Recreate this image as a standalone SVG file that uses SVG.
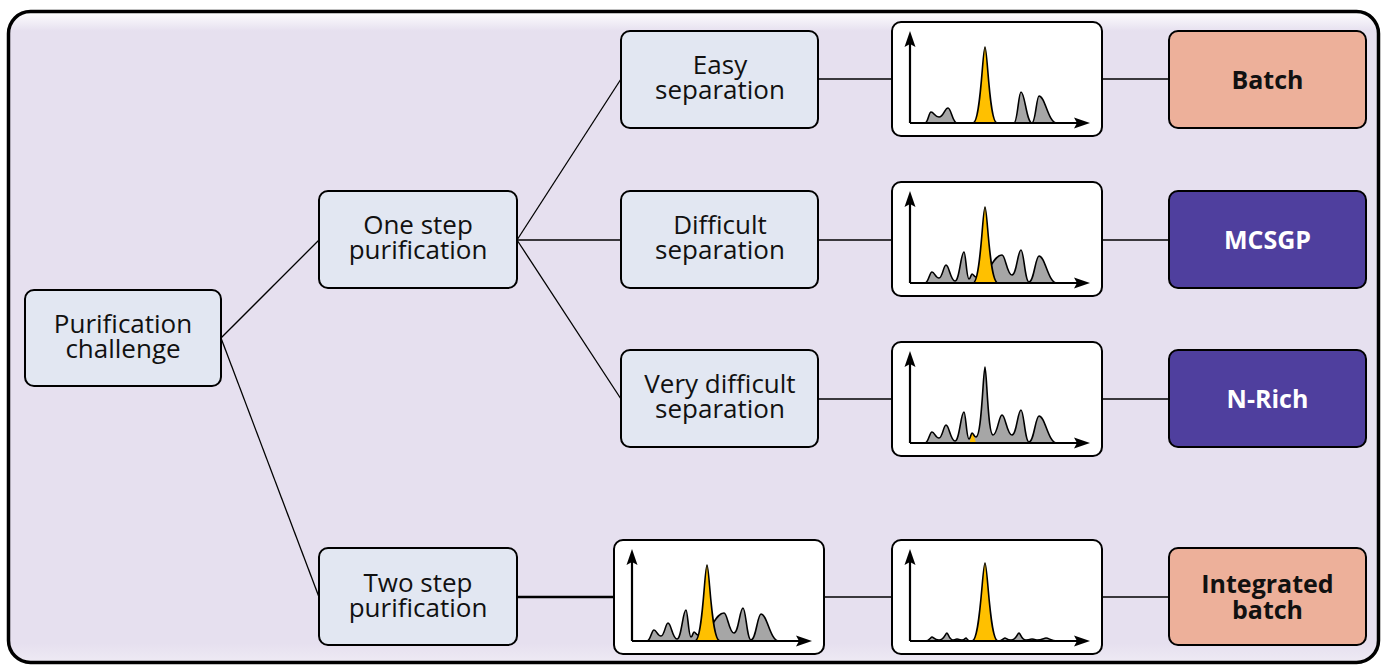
<svg xmlns="http://www.w3.org/2000/svg" width="1384" height="665" viewBox="0 0 1384 665">
<style>
.node{stroke:#000;stroke-width:2}
.blue{fill:#E2E7F2}
.salmon{fill:#EDB09A}
.purple{fill:#4F3F9E}
.t{font-family:"Open Sans","Noto Sans","Liberation Sans",sans-serif;font-size:26px;fill:#111;text-anchor:middle}
.b{font-family:"Open Sans","Noto Sans","Liberation Sans",sans-serif;font-size:25px;font-weight:bold;text-anchor:middle}
.conn line{stroke:#000;stroke-width:1.3}
.gray{fill:#A6A6A6;stroke:#000;stroke-width:1.6;stroke-linejoin:round}
.grayf{fill:#A6A6A6}
.gline{fill:none;stroke:#000;stroke-width:1.6;stroke-linejoin:round}
.yel{fill:#FFC000;stroke:#000;stroke-width:1.6;stroke-linejoin:round}
.yelf{fill:#FFC000}
.axis{stroke:#000;stroke-width:2.2;fill:none}
</style>
<defs>
<linearGradient id="bg" x1="0" y1="0" x2="0" y2="1">
<stop offset="0" stop-color="#FFFFFF"/>
<stop offset="0.03" stop-color="#E6E0EF"/>
<stop offset="0.97" stop-color="#E6E0EF"/>
<stop offset="1" stop-color="#EEEAF4"/>
</linearGradient>
<g id="frame">
<rect x="-18" y="-101" width="210" height="114" rx="9" fill="#fff" stroke="#000" stroke-width="2"/>
</g>
<g id="axes">
<path class="axis" d="M0,0 V-80 M0,0 H168"/>
<polygon points="0,-92 5.5,-76 0,-79 -5.5,-76" fill="#000"/>
<polygon points="180,0 164,-5.5 167,0 164,5.5" fill="#000"/>
</g>
<path id="env2" d="M15,0 C18.5,0 19.55,-11 22,-11 C24.45,-11 25.5,-5 29,-5 C32.5,-5 33.55,-18 36,-18 C39.15,-18 40.5,-2 45,-2 C49.5,-2 50.85,-31 54,-31 C55.75,-31 56.5,-4 59,-4 C60.5,-4 61,-9 62,-9 C63.4,-9 64,-6 66,-6 C79,-6 82.9,-28 92,-28 C95.5,-28 97,-8 102,-8 C106.5,-8 107.85,-33 111,-33 C113.8,-33 115,-1 119,-1 C124,-1 125.5,-27 129,-27 C135.3,-27 138,0 147,0 Z"/>
<path id="env3" d="M15,0 C18.5,0 19.55,-11 22,-11 C24.45,-11 25.5,-5 29,-5 C32.5,-5 33.55,-18 36,-18 C39.15,-18 40.5,-2 45,-2 C49.5,-2 50.85,-31 54,-31 C55.75,-31 56.5,-4 59,-4 C60.5,-4 61,-10 62,-10 C63.4,-10 64,-6 66,-6 C71.9,-6 73.2,-76 75,-76 C76.6,-76 77.8,-8 83,-8 C87.5,-8 88.85,-28 92,-28 C95.5,-28 97,-8 102,-8 C106.5,-8 107.85,-33 111,-33 C113.8,-33 115,-1 119,-1 C124,-1 125.5,-27 129,-27 C135.3,-27 138,0 147,0 Z"/>
<g id="ch1">
<use href="#frame"/>
<path class="gray" d="M15,0 C18,0 18.9,-11 21,-11 C23.8,-11 25,-6 29,-6 C33.5,-6 34.85,-15 38,-15 C41.15,-15 42.5,0 47,0 Z"/>
<path class="yel" d="M63,0 C70.8,0 72.6,-76 75,-76 C77.4,-76 79.2,0 87,0 Z"/>
<path class="gray" d="M104,0 C107.5,0 108.55,-31 111,-31 C114.85,-31 116.5,0 122,0 C125.5,0 126.55,-27 129,-27 C135.3,-27 138,0 147,0 Z"/>
<use href="#axes"/>
</g>
<g id="ch2">
<use href="#frame"/>
<use href="#env2" class="gray"/>
<path class="yel" d="M63,0 C70.8,0 72.6,-76 75,-76 C77.4,-76 79.2,0 88,0 Z"/>
<use href="#axes"/>
</g>
<g id="ch3">
<use href="#frame"/>
<use href="#env3" class="grayf"/>
<path class="yelf" d="M59.5,0 L61,-6 C61.5,-9 61.8,-10 62,-10 C63,-10 63.6,-8 64.5,-5 L66,0 Z"/>
<use href="#env3" class="gline"/>
<use href="#axes"/>
</g>
<g id="ch5">
<use href="#frame"/>
<path class="gray" d="M15,0 C19.6,0 20.6,-4 22,-4 C23.4,-4 24.4,-1 29,-1 C34.2,-1 35.4,-8 37,-8 C38.2,-8 39.1,-1 43,-1 C45.6,-1 46.2,-2 47,-2 C48,-2 48.8,-1 52,-1 C54.6,-1 55.2,-3 56,-3 C56.8,-3 57.4,0 60,0 Z"/>
<path class="gray" d="M88,0 C92.5,0 93.6,-3 95,-3 C96.2,-3 97.1,-1 101,-1 C106.2,-1 107.4,-8 109,-8 C110.4,-8 111.5,-1 116,-1 C119.9,-1 120.8,-2 122,-2 C123,-2 125,-1 127,-1 C132,-1 134,-3 136,-3 C139,-3 141,0 147,0 Z"/>
<path class="yel" d="M62,0 C70.4,0 72.4,-78 75,-78 C77.6,-78 79.6,0 88,0 Z"/>
<use href="#axes"/>
</g>
</defs>

<rect x="8.5" y="11.5" width="1370" height="651" rx="22" fill="url(#bg)" stroke="#000" stroke-width="3.5"/>

<g class="conn" id="connectors">
<line x1="221" y1="338" x2="319" y2="240"/>
<line x1="221" y1="338" x2="319" y2="597"/>
<line x1="517" y1="240" x2="621" y2="79"/>
<line x1="517" y1="240" x2="621" y2="240"/>
<line x1="517" y1="240" x2="621" y2="399"/>
<line x1="818" y1="79" x2="892" y2="79"/>
<line x1="818" y1="240" x2="892" y2="240"/>
<line x1="818" y1="399" x2="892" y2="399"/>
<line x1="1102" y1="79" x2="1169" y2="79"/>
<line x1="1102" y1="240" x2="1169" y2="240"/>
<line x1="1102" y1="399" x2="1169" y2="399"/>
<line x1="517" y1="597" x2="614" y2="597" style="stroke-width:2.6"/>
<line x1="824" y1="597" x2="892" y2="597"/>
<line x1="1102" y1="597" x2="1169" y2="597"/>
</g>

<g id="challenge">
<rect class="node blue" x="25" y="290" width="196" height="96" rx="9"/>
<text class="t" x="123" y="333">Purification</text>
<text class="t" x="123" y="358">challenge</text>
</g>
<g id="one-step">
<rect class="node blue" x="319" y="191" width="198" height="97" rx="9"/>
<text class="t" x="418" y="234">One step</text>
<text class="t" x="418" y="259">purification</text>
</g>
<g id="two-step">
<rect class="node blue" x="319" y="548" width="198" height="97" rx="9"/>
<text class="t" x="418" y="592">Two step</text>
<text class="t" x="418" y="617">purification</text>
</g>
<g id="easy">
<rect class="node blue" x="621" y="31" width="197" height="97" rx="9"/>
<text class="t" x="720" y="74">Easy</text>
<text class="t" x="720" y="99">separation</text>
</g>
<g id="difficult">
<rect class="node blue" x="621" y="191" width="197" height="97" rx="9"/>
<text class="t" x="720" y="234">Difficult</text>
<text class="t" x="720" y="259">separation</text>
</g>
<g id="very-difficult">
<rect class="node blue" x="621" y="350" width="197" height="97" rx="9"/>
<text class="t" x="720" y="393">Very difficult</text>
<text class="t" x="720" y="418">separation</text>
</g>

<g id="chrom-easy"><use href="#ch1" x="910" y="123"/></g>
<g id="chrom-difficult"><use href="#ch2" x="910" y="283"/></g>
<g id="chrom-very-difficult"><use href="#ch3" x="910" y="443"/></g>
<g id="chrom-two-step-1"><use href="#ch2" x="632" y="641"/></g>
<g id="chrom-two-step-2"><use href="#ch5" x="910" y="641"/></g>

<g id="batch">
<rect class="node salmon" x="1169" y="31" width="197" height="97" rx="9"/>
<text class="b" x="1267.5" y="89" fill="#111">Batch</text>
</g>
<g id="mcsgp">
<rect class="node purple" x="1169" y="191" width="197" height="97" rx="9"/>
<text class="b" x="1267.5" y="249" fill="#fff">MCSGP</text>
</g>
<g id="nrich">
<rect class="node purple" x="1169" y="350" width="197" height="97" rx="9"/>
<text class="b" x="1267.5" y="408" fill="#fff">N-Rich</text>
</g>
<g id="integrated-batch">
<rect class="node salmon" x="1169" y="548" width="197" height="97" rx="9"/>
<text class="b" x="1267.5" y="593" fill="#111">Integrated</text>
<text class="b" x="1267.5" y="619" fill="#111">batch</text>
</g>
</svg>
